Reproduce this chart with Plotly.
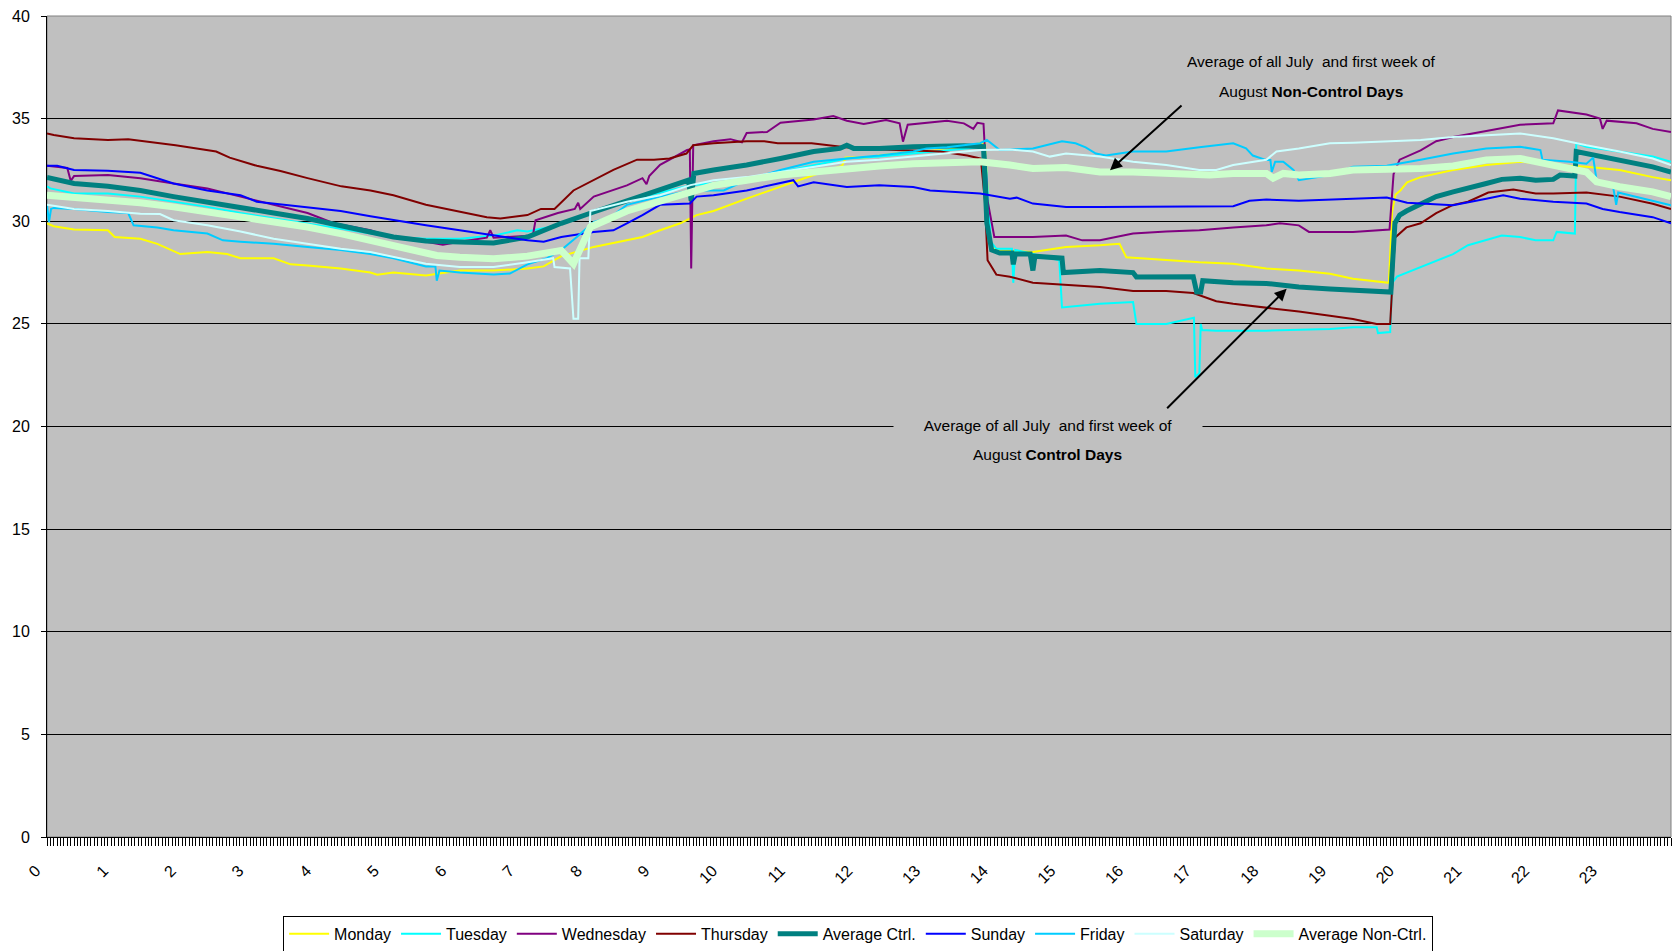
import plotly.graph_objects as go

# ---------------- data (hour of day, temperature) ----------------
monday_h = [0, 0.1, 0.4, 0.9, 1.0, 1.38, 1.63, 1.97, 2.37, 2.66, 2.86, 3.35, 3.6, 3.85, 4.34, 4.78, 4.88, 5.12, 5.6, 6.1, 6.6, 7.1, 7.34, 7.6, 8.08, 8.57, 8.8, 9.06, 9.36, 9.6, 9.85, 10.34, 10.84, 11.33, 11.75, 11.8, 12.1, 12.3, 12.8, 13.3, 13.79, 13.86, 13.95, 14.08, 14.57, 15.06, 15.56, 15.85, 15.95, 16.54, 17.03, 17.53, 18.02, 18.5, 18.96, 19.3, 19.83, 19.88, 19.93, 20.0, 20.1, 20.3, 20.78, 21.27, 21.77, 22.26, 22.75, 23.24, 23.73, 24.0]
monday_v = [29.9, 29.76, 29.6, 29.56, 29.23, 29.15, 28.9, 28.4, 28.5, 28.4, 28.2, 28.2, 27.9, 27.85, 27.7, 27.5, 27.4, 27.5, 27.36, 27.6, 27.6, 27.7, 27.8, 28.3, 28.75, 29.07, 29.23, 29.56, 29.9, 30.3, 30.5, 31.1, 31.7, 32.25, 32.7, 33.1, 33.1, 33.2, 33.4, 33.47, 33.8, 33.8, 28.7, 28.58, 28.5, 28.75, 28.83, 28.9, 28.25, 28.1, 28.0, 27.93, 27.7, 27.6, 27.44, 27.2, 27.0, 30.5, 31.3, 31.5, 31.9, 32.15, 32.5, 32.74, 32.9, 32.74, 32.65, 32.5, 32.15, 32.0]

tuesday_h = [0, 0.05, 0.4, 0.9, 1.38, 1.87, 2.37, 2.86, 3.35, 3.85, 4.34, 4.78, 5.12, 5.6, 6.1, 6.6, 6.95, 7.1, 7.39, 7.6, 8.08, 8.57, 9.06, 9.51, 9.85, 10.34, 10.84, 11.33, 11.82, 12.3, 12.8, 13.3, 13.79, 13.86, 13.95, 14.03, 14.26, 14.28, 14.31, 14.57, 14.96, 15.0, 15.56, 16.05, 16.1, 16.54, 16.95, 16.97, 17.03, 17.05, 17.07, 17.28, 18.02, 18.96, 19.3, 19.65, 19.67, 19.85, 19.88, 19.95, 20.3, 20.78, 21.0, 21.27, 21.5, 21.77, 22.0, 22.26, 22.31, 22.58, 22.6, 22.75, 23.24, 23.73, 24.0]
tuesday_v = [31.7, 31.6, 31.35, 31.35, 31.2, 30.95, 30.7, 30.4, 30.15, 29.9, 29.65, 29.4, 29.23, 29.15, 29.15, 29.3, 29.56, 29.5, 29.7, 29.9, 30.5, 31.0, 31.4, 31.75, 31.85, 32.1, 32.4, 32.74, 33.06, 33.15, 33.3, 33.47, 33.6, 33.6, 29.0, 28.66, 28.66, 27.0, 28.6, 28.4, 28.1, 25.8, 25.98, 26.06, 25.0, 25.0, 25.3, 22.4, 22.6, 25.0, 24.7, 24.67, 24.67, 24.75, 24.84, 24.84, 24.55, 24.6, 27.0, 27.3, 27.77, 28.4, 28.83, 29.07, 29.3, 29.23, 29.07, 29.07, 29.48, 29.4, 33.8, 33.63, 33.4, 33.15, 32.9]

wednesday_h = [0, 0.3, 0.35, 0.4, 0.9, 1.38, 1.87, 2.37, 2.86, 3.35, 3.85, 4.24, 4.78, 5.12, 5.6, 5.85, 6.1, 6.5, 6.55, 6.6, 7.1, 7.18, 7.22, 7.55, 7.8, 7.85, 7.88, 8.08, 8.57, 8.8, 8.86, 8.9, 9.06, 9.31, 9.46, 9.5, 9.52, 9.55, 9.85, 10.1, 10.27, 10.34, 10.64, 10.84, 11.33, 11.62, 11.82, 12.07, 12.4, 12.6, 12.65, 12.72, 13.05, 13.3, 13.55, 13.69, 13.75, 13.84, 13.9, 14.0, 14.57, 15.06, 15.3, 15.56, 16.05, 16.54, 17.03, 17.53, 18.02, 18.22, 18.5, 18.65, 18.96, 19.3, 19.84, 19.9, 19.99, 20.3, 20.53, 20.78, 21.27, 21.77, 22.26, 22.33, 22.75, 22.95, 22.99, 23.05, 23.49, 23.73, 24.0]
wednesday_v = [32.7, 32.6, 31.97, 32.2, 32.25, 32.1, 31.84, 31.6, 31.2, 30.8, 30.4, 29.9, 29.56, 29.2, 29.0, 28.85, 29.0, 29.2, 29.56, 29.2, 29.3, 29.3, 30.05, 30.4, 30.6, 30.9, 30.6, 31.2, 31.75, 32.1, 31.8, 32.2, 32.75, 33.2, 33.47, 33.5, 27.7, 33.7, 33.9, 34.0, 33.85, 34.3, 34.35, 34.8, 34.96, 35.13, 34.9, 34.74, 34.93, 34.77, 33.88, 34.7, 34.8, 34.9, 34.77, 34.5, 34.8, 34.75, 31.0, 29.23, 29.23, 29.3, 29.07, 29.07, 29.4, 29.5, 29.56, 29.7, 29.8, 29.9, 29.8, 29.48, 29.48, 29.48, 29.6, 32.3, 33.0, 33.45, 33.9, 34.1, 34.4, 34.7, 34.77, 35.4, 35.2, 35.0, 34.5, 34.9, 34.77, 34.5, 34.35]

thursday_h = [0, 0.1, 0.4, 0.9, 1.2, 1.9, 2.5, 2.7, 3.1, 3.45, 3.85, 4.35, 4.78, 5.12, 5.6, 6.1, 6.5, 6.7, 7.1, 7.3, 7.5, 7.78, 8.08, 8.37, 8.72, 8.97, 9.2, 9.45, 9.55, 9.85, 10.34, 10.6, 10.8, 11.3, 11.8, 12.3, 12.8, 13.2, 13.6, 13.8, 13.86, 13.9, 14.03, 14.23, 14.57, 15.06, 15.56, 16.05, 16.54, 16.94, 17.28, 17.53, 18.02, 18.5, 18.96, 19.3, 19.65, 19.85, 19.92, 20.09, 20.3, 20.53, 20.78, 21.0, 21.3, 21.67, 22.0, 22.26, 22.75, 23.24, 23.73, 24.0]
thursday_v = [34.28, 34.2, 34.04, 33.96, 34.0, 33.7, 33.4, 33.1, 32.7, 32.45, 32.1, 31.7, 31.5, 31.27, 30.8, 30.45, 30.2, 30.13, 30.3, 30.6, 30.6, 31.5, 32.0, 32.5, 33.0, 33.0, 33.06, 33.3, 33.7, 33.8, 33.9, 33.9, 33.8, 33.8, 33.6, 33.5, 33.45, 33.4, 33.2, 33.05, 31.0, 28.1, 27.4, 27.3, 27.0, 26.9, 26.8, 26.6, 26.6, 26.5, 26.1, 25.98, 25.8, 25.6, 25.4, 25.24, 25.0, 25.0, 29.2, 29.7, 29.9, 30.4, 30.8, 30.95, 31.4, 31.55, 31.35, 31.35, 31.4, 31.2, 30.85, 30.6]

avg_ctrl_h = [0, 0.4, 0.9, 1.38, 1.87, 2.37, 2.86, 3.35, 3.85, 4.34, 4.78, 5.12, 5.6, 6.1, 6.6, 7.1, 7.6, 8.08, 8.57, 9.06, 9.36, 9.48, 9.52, 9.56, 9.85, 10.34, 10.84, 11.33, 11.72, 11.82, 11.92, 12.3, 12.8, 13.3, 13.55, 13.84, 13.89, 13.96, 14.08, 14.26, 14.28, 14.31, 14.53, 14.57, 14.6, 15.0, 15.02, 15.56, 16.05, 16.1, 16.54, 16.94, 16.99, 17.05, 17.08, 17.53, 18.02, 18.5, 18.96, 19.3, 19.86, 19.92, 19.99, 20.09, 20.3, 20.53, 20.78, 21.0, 21.27, 21.5, 21.77, 22.0, 22.26, 22.36, 22.58, 22.6, 22.75, 22.99, 23.24, 23.73, 24.0]
avg_ctrl_v = [32.13, 31.84, 31.7, 31.5, 31.2, 30.95, 30.7, 30.4, 30.13, 29.8, 29.5, 29.23, 29.04, 29.0, 28.94, 29.23, 29.9, 30.45, 31.0, 31.5, 31.9, 32.0, 31.0, 32.33, 32.5, 32.74, 33.06, 33.4, 33.55, 33.7, 33.55, 33.55, 33.63, 33.7, 33.68, 33.63, 29.9, 28.6, 28.45, 28.45, 27.9, 28.4, 28.4, 27.6, 28.3, 28.2, 27.5, 27.6, 27.5, 27.28, 27.28, 27.3, 26.55, 26.55, 27.1, 27.0, 26.97, 26.8, 26.7, 26.63, 26.55, 29.9, 30.3, 30.5, 30.86, 31.2, 31.43, 31.64, 31.84, 32.04, 32.1, 32.0, 32.04, 32.25, 32.2, 33.4, 33.3, 33.15, 32.95, 32.65, 32.4]

sunday_h = [0, 0.15, 0.4, 0.9, 1.38, 1.87, 2.37, 2.86, 3.1, 3.35, 3.85, 4.34, 4.78, 5.12, 5.6, 6.1, 6.6, 7.1, 7.34, 7.6, 8.08, 8.37, 8.57, 8.8, 9.06, 9.5, 9.6, 9.85, 10.34, 10.84, 11.03, 11.1, 11.33, 11.82, 12.3, 12.8, 13.05, 13.55, 13.79, 14.23, 14.33, 14.57, 15.06, 15.56, 16.05, 16.54, 17.03, 17.53, 17.77, 18.02, 18.5, 18.96, 19.3, 19.8, 20.1, 20.3, 20.78, 21.27, 21.52, 21.77, 22.26, 22.75, 22.99, 23.24, 23.73, 24.0]
sunday_v = [32.7, 32.7, 32.5, 32.46, 32.36, 31.84, 31.5, 31.27, 30.95, 30.86, 30.7, 30.5, 30.24, 30.05, 29.8, 29.56, 29.3, 29.07, 29.0, 29.23, 29.48, 29.56, 29.9, 30.3, 30.8, 30.86, 31.2, 31.27, 31.5, 31.84, 32.0, 31.7, 31.9, 31.67, 31.76, 31.67, 31.5, 31.4, 31.35, 31.1, 31.15, 30.86, 30.7, 30.7, 30.7, 30.72, 30.73, 30.73, 31.0, 31.06, 31.0, 31.06, 31.1, 31.16, 30.9, 30.86, 30.78, 31.1, 31.27, 31.1, 30.95, 30.86, 30.6, 30.45, 30.2, 29.9]

friday_h = [0, 0.03, 0.06, 0.1, 0.4, 0.9, 1.2, 1.28, 1.63, 1.87, 2.37, 2.6, 2.86, 3.35, 3.85, 4.34, 4.78, 5.12, 5.6, 5.74, 5.76, 5.8, 6.1, 6.6, 6.84, 7.1, 7.39, 7.6, 7.83, 8.08, 8.33, 8.57, 9.06, 9.51, 10.0, 10.34, 10.84, 11.33, 11.82, 12.3, 12.8, 13.0, 13.3, 13.79, 13.89, 14.08, 14.57, 15.0, 15.2, 15.35, 15.5, 15.65, 16.05, 16.54, 17.03, 17.53, 17.72, 17.82, 18.02, 18.08, 18.1, 18.15, 18.27, 18.42, 18.5, 18.96, 19.3, 19.8, 20.3, 20.78, 21.27, 21.77, 22.07, 22.1, 22.5, 22.75, 22.85, 22.9, 23.14, 23.19, 23.22, 23.73, 24.0]
friday_v = [30.78, 29.97, 30.6, 30.65, 30.6, 30.45, 30.4, 29.8, 29.7, 29.56, 29.4, 29.07, 29.0, 28.9, 28.75, 28.6, 28.4, 28.2, 27.8, 27.8, 27.1, 27.6, 27.5, 27.4, 27.45, 27.9, 28.2, 28.6, 29.23, 29.97, 30.2, 30.8, 31.2, 31.5, 31.5, 32.0, 32.5, 32.9, 33.06, 33.2, 33.4, 33.55, 33.6, 33.8, 33.96, 33.47, 33.55, 33.9, 33.8, 33.6, 33.3, 33.2, 33.4, 33.4, 33.6, 33.8, 33.55, 33.2, 32.98, 32.98, 32.4, 32.9, 32.9, 32.5, 32.0, 32.25, 32.65, 32.7, 33.0, 33.3, 33.55, 33.63, 33.47, 33.0, 32.9, 32.8, 33.1, 32.0, 31.76, 30.8, 31.4, 31.0, 30.78]

saturday_h = [0, 0.4, 0.9, 1.38, 1.67, 1.87, 2.37, 2.86, 3.35, 3.85, 4.34, 4.78, 5.12, 5.6, 6.1, 6.6, 7.1, 7.48, 7.5, 7.73, 7.78, 7.85, 7.87, 8.0, 8.03, 8.57, 9.06, 9.51, 9.85, 10.34, 10.84, 11.33, 11.82, 12.3, 12.8, 13.3, 13.79, 14.23, 14.57, 14.82, 15.06, 15.56, 16.05, 16.54, 17.03, 17.28, 17.53, 18.02, 18.17, 18.5, 18.96, 19.3, 19.8, 20.3, 20.78, 21.27, 21.77, 22.26, 22.75, 23.24, 23.73, 24.0]
saturday_v = [30.8, 30.6, 30.5, 30.37, 30.35, 30.05, 29.8, 29.5, 29.15, 28.9, 28.66, 28.5, 28.25, 27.93, 27.77, 27.77, 28.0, 28.2, 27.77, 27.7, 25.25, 25.25, 28.2, 28.2, 30.5, 30.95, 31.27, 31.76, 32.0, 32.15, 32.4, 32.65, 32.9, 33.0, 33.15, 33.3, 33.47, 33.5, 33.4, 33.15, 33.3, 33.15, 32.9, 32.74, 32.5, 32.5, 32.74, 33.0, 33.4, 33.55, 33.8, 33.83, 33.88, 33.96, 34.1, 34.2, 34.28, 34.04, 33.7, 33.4, 33.06, 32.74]

avg_nonctrl_h = [0, 0.4, 0.9, 1.38, 1.87, 2.37, 2.86, 3.35, 3.85, 4.34, 4.78, 5.12, 5.6, 5.76, 6.1, 6.6, 7.1, 7.48, 7.6, 7.78, 7.88, 8.03, 8.57, 9.06, 9.51, 9.85, 10.34, 10.84, 11.33, 11.82, 12.3, 12.8, 13.3, 13.79, 14.23, 14.57, 15.06, 15.56, 16.05, 16.54, 17.03, 17.18, 17.53, 18.02, 18.12, 18.27, 18.5, 18.96, 19.3, 19.8, 20.3, 20.78, 21.27, 21.77, 22.26, 22.75, 22.9, 23.24, 23.73, 24.0]
avg_nonctrl_v = [31.27, 31.16, 31.1, 30.9, 30.7, 30.45, 30.24, 29.97, 29.72, 29.4, 29.07, 28.87, 28.5, 28.33, 28.25, 28.17, 28.3, 28.5, 28.58, 27.93, 28.58, 29.72, 30.5, 31.0, 31.43, 31.75, 32.0, 32.25, 32.4, 32.57, 32.69, 32.8, 32.86, 32.9, 32.74, 32.57, 32.62, 32.4, 32.4, 32.36, 32.33, 32.25, 32.33, 32.33, 32.1, 32.33, 32.25, 32.33, 32.5, 32.5, 32.57, 32.69, 32.98, 33.06, 32.74, 32.4, 31.92, 31.68, 31.43, 31.2]

hour_ticks = list(range(24))
hour_labels = [str(h) for h in hour_ticks]
y_ticks = [0, 5, 10, 15, 20, 25, 30, 35, 40]

series = [
    ("Monday", monday_h, monday_v, "#FFFF00", 2),
    ("Tuesday", tuesday_h, tuesday_v, "#00FFFF", 2),
    ("Wednesday", wednesday_h, wednesday_v, "#800080", 2),
    ("Thursday", thursday_h, thursday_v, "#800000", 2),
    ("Average Ctrl.", avg_ctrl_h, avg_ctrl_v, "#008080", 5),
    ("Sunday", sunday_h, sunday_v, "#0000FF", 2),
    ("Friday", friday_h, friday_v, "#00CCFF", 2),
    ("Saturday", saturday_h, saturday_v, "#CCFFFF", 2),
    ("Average Non-Ctrl.", avg_nonctrl_h, avg_nonctrl_v, "#CCFFCC", 7),
]

FONT = "Liberation Sans, Arial, sans-serif"

fig = go.Figure()
for name, hx, vy, col, w in series:
    assert len(hx) == len(vy), name
    fig.add_trace(go.Scatter(x=hx, y=vy, mode="lines", name=name,
                             line=dict(color=col, width=w)))

fig.update_layout(
    width=1676, height=951,
    margin=dict(l=47, r=5, t=16, b=114),
    plot_bgcolor="#C0C0C0", paper_bgcolor="white",
    font=dict(family=FONT, size=15, color="black"),
    showlegend=True,
    legend=dict(orientation="h", xref="container", yref="container",
                x=0.512, xanchor="center", y=0.037, yanchor="top",
                bordercolor="black", borderwidth=1, bgcolor="white", itemwidth=40,
                font=dict(family=FONT, size=16, color="black"),
                traceorder="normal"),
    xaxis=dict(range=[0, 24], tickvals=hour_ticks, ticktext=hour_labels, tickangle=-45,
               ticks="outside", ticklen=8, tickcolor="black", tickwidth=1,
               showline=True, linecolor="black", linewidth=1, showgrid=False, zeroline=False,
               minor=dict(dtick=0.05, tick0=0, ticks="outside", ticklen=8, tickcolor="black",
                          tickwidth=1, showgrid=False),
               tickfont=dict(family=FONT, size=16, color="black"),
               ticklabelstandoff=9, ticklabelshift=-11,
               automargin=False, fixedrange=True),
    yaxis=dict(range=[0, 40], tickvals=y_ticks, ticks="outside", ticklen=5, tickcolor="black",
               showline=True, linecolor="black", linewidth=1, showgrid=True,
               gridcolor="black", gridwidth=1, zeroline=False, ticklabelstandoff=8,
               tickfont=dict(family=FONT, size=16, color="black"),
               automargin=False, fixedrange=True),
    shapes=[dict(type="rect", xref="paper", yref="paper", x0=0, x1=1, y0=0, y1=1,
                 line=dict(color="#808080", width=1), layer="below")],
)

ann_font = dict(family=FONT, size=15.5, color="black")
fig.add_annotation(x=18.68, y=37.77, xref="x", yref="y", showarrow=False,
                   text="Average of all July  and first week of", font=ann_font)
fig.add_annotation(x=18.68, y=36.31, xref="x", yref="y", showarrow=False,
                   text="August <b>Non-Control Days</b>", font=ann_font)
fig.add_annotation(x=14.79, y=20.03, xref="x", yref="y", showarrow=False,
                   text="Average of all July  and first week of", font=ann_font,
                   bgcolor="#C0C0C0", width=300, borderpad=4)
fig.add_annotation(x=14.79, y=18.66, xref="x", yref="y", showarrow=False,
                   text="August <b>Control Days</b>", font=ann_font)
# arrows
fig.add_annotation(x=15.71, y=32.49, xref="x", yref="y", text="", showarrow=True,
                   ax=73, ay=-66, arrowhead=2, arrowsize=1.2, arrowwidth=2, arrowcolor="black")
fig.add_annotation(x=18.32, y=26.71, xref="x", yref="y", text="", showarrow=True,
                   ax=-121, ay=121, arrowhead=2, arrowsize=1.2, arrowwidth=2, arrowcolor="black")

fig.write_html("out.html", config={"displayModeBar": False},
               post_script="document.body.style.margin='0';document.body.style.overflow='hidden';")
